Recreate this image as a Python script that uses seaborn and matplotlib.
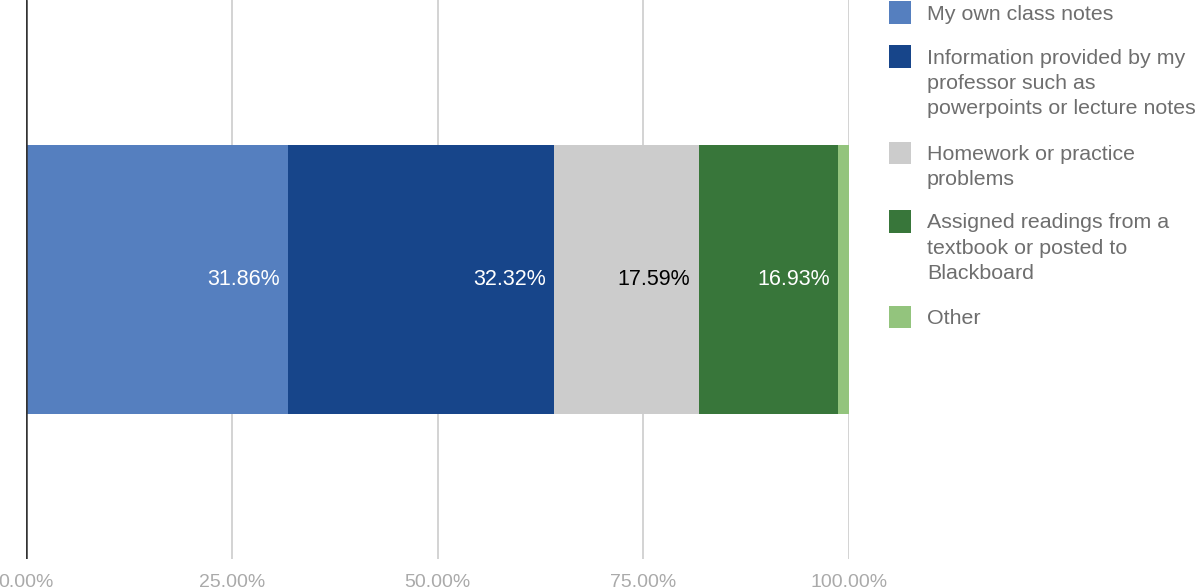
import numpy as np
import pandas as pd
import matplotlib
matplotlib.use("Agg")
import matplotlib.pyplot as plt
import seaborn as sns
from matplotlib.patches import Rectangle

categories = [
    "My own class notes",
    "Information provided by my professor such as powerpoints or lecture notes",
    "Homework or practice problems",
    "Assigned readings from a textbook or posted to Blackboard",
    "Other",
]
legend_labels = [
    "My own class notes",
    "Information provided by my\nprofessor such as\npowerpoints or lecture notes",
    "Homework or practice\nproblems",
    "Assigned readings from a\ntextbook or posted to\nBlackboard",
    "Other",
]
values = [31.86, 32.32, 17.59, 16.93, 1.30]
colors = ["#557fbf", "#17458a", "#cccccc", "#38763a", "#93c47d"]
label_colors = ["white", "white", "black", "white", None]
tick_values = [0, 25, 50, 75, 100]
tick_labels = ["0.00%", "25.00%", "50.00%", "75.00%", "100.00%"]

sns.set_theme(style="white")
plt.rcParams["font.family"] = ["Liberation Sans", "DejaVu Sans"]

W, H = 1200, 588
fig = plt.figure(figsize=(W / 100, H / 100), dpi=100)
ax = fig.add_axes([26 / W, 29 / H, (849 - 26) / W, (H - 29) / H])

cum = np.cumsum(values)
df = pd.DataFrame({"row": ["all"] * len(values), "cum": cum, "cat": categories})

# draw cumulative bars from the largest (rightmost) back to front
for i in range(len(values) - 1, -1, -1):
    sns.barplot(data=df.iloc[[i]], x="cum", y="row", color=colors[i],
                width=0.48, ax=ax, saturation=1, linewidth=0, zorder=3)

ax.set_xlim(0, 100)
ax.set_ylim(0.5, -0.5)
ax.set_xticks(tick_values)
ax.set_xticklabels(tick_labels)
ax.set_yticks([])
ax.set_xlabel("")
ax.set_ylabel("")
for s in ax.spines.values():
    s.set_visible(False)
ax.grid(axis="x", color="#cccccc", linewidth=1.2, zorder=0)
ax.axvline(0, color="#333333", linewidth=1.8, zorder=4)
ax.tick_params(axis="x", length=0, pad=11, labelsize=14, labelcolor="#aaaaaa")

for i, v in enumerate(values):
    if label_colors[i] is None:
        continue
    ax.text(cum[i] - 1.05, 0, f"{v:.2f}%", ha="right", va="center",
            fontsize=15.5, color=label_colors[i], zorder=5)

# legend
sq_centers = [12.5, 56.5, 152.5, 221.5, 317]
for y, c, lab in zip(sq_centers, colors, legend_labels):
    fig.patches.append(Rectangle((889 / W, 1 - (y + 11) / H), 22 / W, 22 / H,
                                 transform=fig.transFigure, facecolor=c,
                                 edgecolor="none"))
    fig.text(927 / W, 1 - (y - 8) / H, lab, ha="left", va="top",
             fontsize=15.4, color="#6e6e6e", linespacing=1.42)

fig.savefig("out.png", dpi=100)
